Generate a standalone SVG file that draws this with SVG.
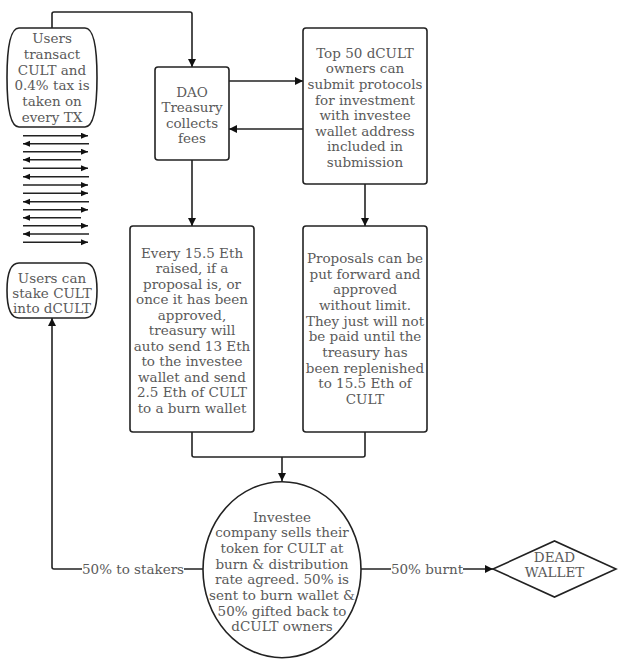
<svg xmlns="http://www.w3.org/2000/svg" width="619" height="663" viewBox="0 0 619 663">
<defs>
<style>
.box{fill:#fff;stroke:#222;stroke-width:1.6}
.t{font-family:"DejaVu Serif","Liberation Serif",serif;font-size:13.5px;fill:#5a5a5a;text-anchor:middle}
.c{fill:none;stroke:#222;stroke-width:1.6}
.a{fill:none;stroke:#222;stroke-width:1.4}
</style>
<marker id="ah" markerUnits="userSpaceOnUse" markerWidth="10" markerHeight="10" refX="8" refY="4" orient="auto">
<path d="M0,0 L8,4 L0,8 Z" fill="#111"/>
</marker>
<marker id="sh" markerUnits="userSpaceOnUse" markerWidth="10" markerHeight="8" refX="7" refY="3" orient="auto">
<path d="M0,0 L7,3 L0,6 Z" fill="#111"/>
</marker>
</defs>
<rect width="619" height="663" fill="#fff"/>

<g id="connectors">
<path class="c" d="M52,28 V14 Q52,12 54,12 H190 Q192,12 192,14 V67" marker-end="url(#ah)"/>
<path class="c" d="M229,81 H303" marker-end="url(#ah)"/>
<path class="c" d="M303,129 H229" marker-end="url(#ah)"/>
<path class="c" d="M192,160 V226" marker-end="url(#ah)"/>
<path class="c" d="M365,184 V226" marker-end="url(#ah)"/>
<path class="c" d="M192,432 V455 Q192,457 194,457 H363 Q365,457 365,455 V432"/>
<path class="c" d="M282,457 V481" marker-end="url(#ah)"/>
<path class="c" d="M203,569 H54 Q52,569 52,567 V318" marker-end="url(#ah)"/>
<path class="c" d="M361,569 H493" marker-end="url(#ah)"/>
<rect x="82" y="561" width="102" height="16" fill="#fff"/>
<text class="t" x="133" y="574">50% to stakers</text>
<rect x="391" y="561" width="72" height="16" fill="#fff"/>
<text class="t" x="427" y="574">50% burnt</text>
</g>

<g id="tx-arrows">
<path class="a" d="M23,135.7 H88" marker-end="url(#sh)"/>
<path class="a" d="M89,143.7 H23" marker-end="url(#sh)"/>
<path class="a" d="M23,151.7 H88" marker-end="url(#sh)"/>
<path class="a" d="M81,159.7 H23" marker-end="url(#sh)"/>
<path class="a" d="M23,168.3 H88" marker-end="url(#sh)"/>
<path class="a" d="M89,176.7 H23" marker-end="url(#sh)"/>
<path class="a" d="M23,185 H88" marker-end="url(#sh)"/>
<path class="a" d="M23,193.3 H88" marker-end="url(#sh)"/>
<path class="a" d="M89,201.7 H23" marker-end="url(#sh)"/>
<path class="a" d="M23,209.7 H88" marker-end="url(#sh)"/>
<path class="a" d="M81,217.7 H23" marker-end="url(#sh)"/>
<path class="a" d="M23,225.7 H88" marker-end="url(#sh)"/>
<path class="a" d="M89,234 H23" marker-end="url(#sh)"/>
<path class="a" d="M23,242.3 H88" marker-end="url(#sh)"/>
</g>

<g id="users-transact">
<path class="box" d="M19,28 H85 Q97,28 97,77.5 Q97,127 85,127 H19 Q7,127 7,77.5 Q7,28 19,28 Z"/>
<text class="t"><tspan x="52" y="43.3">Users</tspan><tspan x="52" y="59">transact</tspan><tspan x="52" y="74.7">CULT and</tspan><tspan x="52" y="90.4">0.4% tax is</tspan><tspan x="52" y="106.1">taken on</tspan><tspan x="52" y="121.8">every TX</tspan></text>
</g>

<g id="dao-treasury">
<rect class="box" x="155" y="67" width="74" height="93" rx="3"/>
<text class="t"><tspan x="192" y="96.8">DAO</tspan><tspan x="192" y="112.3">Treasury</tspan><tspan x="192" y="127.8">collects</tspan><tspan x="192" y="143.3">fees</tspan></text>
</g>

<g id="top50">
<rect class="box" x="303" y="28" width="124" height="156" rx="3"/>
<text class="t"><tspan x="365" y="57.8">Top 50 dCULT</tspan><tspan x="365" y="73.4">owners can</tspan><tspan x="365" y="88.9">submit protocols</tspan><tspan x="365" y="104.5">for investment</tspan><tspan x="365" y="120.1">with investee</tspan><tspan x="365" y="135.7">wallet address</tspan><tspan x="365" y="151.2">included in</tspan><tspan x="365" y="166.8">submission</tspan></text>
</g>

<g id="every155">
<rect class="box" x="130" y="226" width="124" height="206" rx="3"/>
<text class="t"><tspan x="192" y="257.5">Every 15.5 Eth</tspan><tspan x="192" y="273">raised, if a</tspan><tspan x="192" y="288.6">proposal is, or</tspan><tspan x="192" y="304.1">once it has been</tspan><tspan x="192" y="319.6">approved,</tspan><tspan x="192" y="335.2">treasury will</tspan><tspan x="192" y="350.7">auto send 13 Eth</tspan><tspan x="192" y="366.2">to the investee</tspan><tspan x="192" y="381.7">wallet and send</tspan><tspan x="192" y="397.3">2.5 Eth of CULT</tspan><tspan x="192" y="412.8">to a burn wallet</tspan></text>
</g>

<g id="proposals">
<rect class="box" x="303" y="226" width="124" height="206" rx="3"/>
<text class="t"><tspan x="365" y="263.1">Proposals can be</tspan><tspan x="365" y="278.8">put forward and</tspan><tspan x="365" y="294.4">approved</tspan><tspan x="365" y="310.1">without limit.</tspan><tspan x="365" y="325.8">They just will not</tspan><tspan x="365" y="341.4">be paid until the</tspan><tspan x="365" y="357.1">treasury has</tspan><tspan x="365" y="372.8">been replenished</tspan><tspan x="365" y="388.4">to 15.5 Eth of</tspan><tspan x="365" y="404.1">CULT</tspan></text>
</g>

<g id="users-stake">
<path class="box" d="M19,263 H85 Q97,263 97,290.5 Q97,318 85,318 H19 Q7,318 7,290.5 Q7,263 19,263 Z"/>
<text class="t"><tspan x="52" y="282.8">Users can</tspan><tspan x="52" y="297.8">stake CULT</tspan><tspan x="52" y="312.8">into dCULT</tspan></text>
</g>

<g id="investee">
<ellipse class="box" cx="282" cy="569.7" rx="79" ry="88"/>
<text class="t"><tspan x="282" y="521.5">Investee</tspan><tspan x="282" y="537.2">company sells their</tspan><tspan x="282" y="552.9">token for CULT at</tspan><tspan x="282" y="568.6">burn &amp; distribution</tspan><tspan x="282" y="584.3">rate agreed. 50% is</tspan><tspan x="282" y="600">sent to burn wallet &amp;</tspan><tspan x="282" y="615.7">50% gifted back to</tspan><tspan x="282" y="631.4">dCULT owners</tspan></text>
</g>

<g id="dead-wallet">
<polygon class="box" points="493,569 554.5,541 616,569 554.5,597"/>
<text class="t"><tspan x="554.5" y="561.8">DEAD</tspan><tspan x="554.5" y="576.5">WALLET</tspan></text>
</g>
</svg>
